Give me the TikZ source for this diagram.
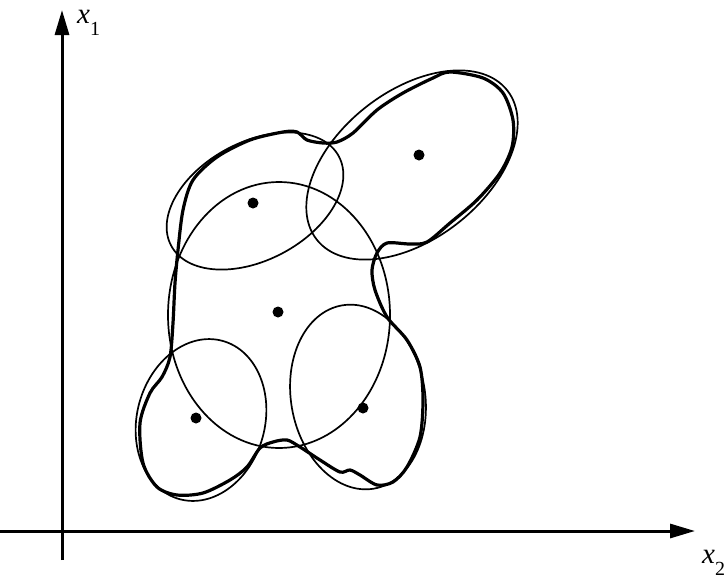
\documentclass[tikz,border=0pt]{standalone}
\usepackage{fontspec}
\setmainfont{Liberation Serif}
\usetikzlibrary{arrows.meta}

\begin{document}
\begin{tikzpicture}[
  x=1pt,y=-1pt,
  axis/.style={line width=3pt,-{Triangle[length=25pt,width=14pt]}},
  cluster/.style={line width=1.7pt},
  envelope/.style={line width=3.2pt,line join=round},
  centre/.style={circle,fill=black,inner sep=0pt,minimum size=11pt},
  lbl/.style={font=\fontsize{29}{31}\selectfont\itshape,inner sep=0pt,anchor=base west}
]
\useasboundingbox (0,0) rectangle (725,581);
% axes
\coordinate (A0) at (62,560);
\coordinate (A1) at (62,10);
\coordinate (B0) at (0,531);
\coordinate (B1) at (695,531);
\draw[axis] (A0) -- (A1);
\draw[axis] (B0) -- (B1);
\node[lbl] (x1) at (77,23) {x\raisebox{-12pt}{\fontsize{20}{22}\selectfont\upshape 1}};
\node[lbl] (x2) at (702,563) {x\raisebox{-12pt}{\fontsize{20}{22}\selectfont\upshape 2}};
% clusters
\draw[cluster] (279,315) ellipse [x radius=111, y radius=133];
\draw[cluster,rotate around={28:(255,201)}] (255,201) ellipse [x radius=95, y radius=59];
\draw[cluster,rotate around={38:(412,165)}] (412,165) ellipse [x radius=121, y radius=74];
\draw[cluster,rotate around={-15:(201,420)}] (201,420) ellipse [x radius=64, y radius=82];
\draw[cluster,rotate around={10:(358,397)}] (358,397) ellipse [x radius=67, y radius=93];
% centres
\foreach \n/\p in {c1/{(253,203)},c2/{(419,155)},c3/{(278,312)},c4/{(196,418)},c5/{(363,408)}}{
  \node[centre] (\n) at \p {};
}
% union boundary
\draw[envelope] plot[smooth cycle,tension=0.5] coordinates {
  (450,72) (483,78) (503,93) (513,120) (512,147) (500,173) (477,200) (450,223)
  (427,242) (410,244) (387,243) (377,253) (372,270) (375,290) (387,317) (407,340)
  (420,367) (423,400) (420,437) (407,467) (393,482) (377,485) (360,475) (350,470)
  (340,472) (320,460) (300,447) (287,440) (273,442) (260,448) (247,467) (230,480)
  (203,493) (177,495) (157,487) (143,463) (140,423) (150,393) (162,377) (170,357)
  (173,323) (175,283) (178,250) (183,210) (193,180) (217,157) (250,140) (283,132)
  (297,132) (307,140) (323,143) (337,142) (353,133) (377,110) (403,93) (433,78)};
\end{tikzpicture}
\end{document}
